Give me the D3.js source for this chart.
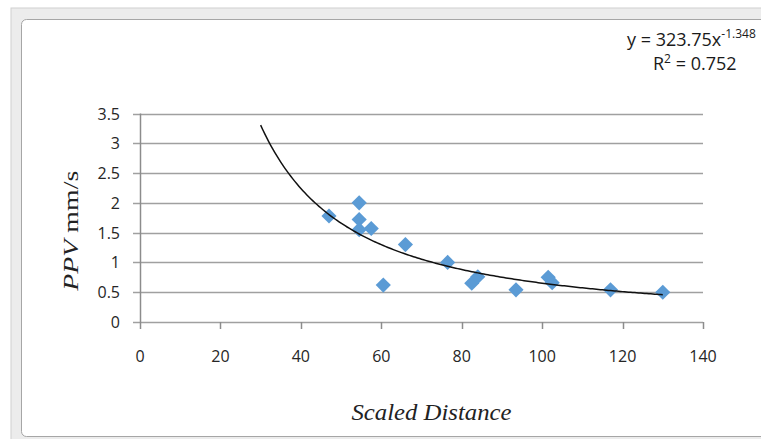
<!DOCTYPE html>
<html>
<head>
<meta charset="utf-8">
<script src="https://cdn.jsdelivr.net/npm/d3@7"></script>
<style>
  body { margin: 0; background: #fff; }
  svg { display: block; }
</style>
</head>
<body>
<svg id="chart" width="761" height="439"></svg>
<script>
const SCALED_DISTANCE = [47, 54.5, 54.5, 54.5, 57.5, 66, 60.5, 76.5, 82.5, 84, 93.5, 101.5, 102.5, 117, 130];
const PPV = [1.78, 2.0, 1.72, 1.55, 1.57, 1.3, 0.62, 1.0, 0.65, 0.76, 0.54, 0.75, 0.66, 0.54, 0.5];
const X_TICKS = [0, 20, 40, 60, 80, 100, 120, 140];
const Y_TICKS = [0, 0.5, 1, 1.5, 2, 2.5, 3, 3.5];
const FIT_A = 323.75;
const FIT_B = -1.348;
const FIT_R2 = 0.752;
const FIT_RANGE = [30, 130];

const svg = d3.select("#chart");

// excel-style frame round the chart
svg.append("rect")
  .attr("x", 11).attr("y", 8).attr("width", 760).attr("height", 440)
  .attr("fill", "#ececec").attr("stroke", "#cfcfcf");
svg.append("rect")
  .attr("x", 21.5).attr("y", 19.5).attr("width", 745).attr("height", 417)
  .attr("rx", 5)
  .attr("fill", "#fff").attr("stroke", "#a6a6a6");

const margin = { left: 140, right: 58, top: 113.5, bottom: 117 };
const width = 761, height = 439;

const x = d3.scaleLinear().domain([0, 140]).range([margin.left, width - margin.right]);
const y = d3.scaleLinear().domain([0, 3.5]).range([height - margin.bottom, margin.top]);

// gridlines
svg.append("g")
  .selectAll("line")
  .data(Y_TICKS)
  .join("line")
  .attr("x1", x(0) - 7).attr("x2", x(140))
  .attr("y1", (d) => Math.round(y(d)) + 0.5).attr("y2", (d) => Math.round(y(d)) + 0.5)
  .attr("stroke", "#a0a0a0").attr("stroke-width", 1.5);

// y axis line
svg.append("line")
  .attr("x1", x(0) + 0.5).attr("x2", x(0) + 0.5)
  .attr("y1", y(3.5)).attr("y2", y(0))
  .attr("stroke", "#8c8c8c").attr("stroke-width", 1.5);

// x ticks
svg.append("g")
  .selectAll("line")
  .data(X_TICKS)
  .join("line")
  .attr("x1", (d) => Math.round(x(d)) + 0.5).attr("x2", (d) => Math.round(x(d)) + 0.5)
  .attr("y1", y(0)).attr("y2", y(0) + 7)
  .attr("stroke", "#8c8c8c").attr("stroke-width", 1.5);

const tickFont = "'Open Sans', 'Liberation Sans', sans-serif";

svg.append("g")
  .selectAll("text")
  .data(Y_TICKS)
  .join("text")
  .attr("x", x(0) - 20)
  .attr("y", (d) => y(d) + 6)
  .attr("text-anchor", "end")
  .style("font-family", tickFont)
  .style("font-size", "16px")
  .style("fill", "#262626")
  .text((d) => d);

svg.append("g")
  .selectAll("text")
  .data(X_TICKS)
  .join("text")
  .attr("x", (d) => x(d))
  .attr("y", y(0) + 40)
  .attr("text-anchor", "middle")
  .style("font-family", tickFont)
  .style("font-size", "16px")
  .style("fill", "#262626")
  .text((d) => d);

// axis titles
const yTitle = svg.append("text")
  .attr("transform", `translate(78,${(y(0) + y(3.5)) / 2 + 13}) rotate(-90)`)
  .attr("text-anchor", "middle")
  .attr("textLength", 120)
  .attr("lengthAdjust", "spacingAndGlyphs")
  .style("font-family", "'Liberation Serif', serif")
  .style("font-size", "21px")
  .style("fill", "#222")
  .style("font-weight", "normal");
yTitle.append("tspan").style("font-style", "italic").text("PPV");
yTitle.append("tspan").text(" mm/s");

svg.append("text")
  .attr("x", (x(0) + x(140)) / 2 + 10)
  .attr("y", 420)
  .attr("text-anchor", "middle")
  .attr("textLength", 160)
  .attr("lengthAdjust", "spacingAndGlyphs")
  .style("font-family", "'Liberation Serif', serif")
  .style("font-style", "italic")
  .style("font-size", "23px")
  .style("fill", "#222")
  .text("Scaled Distance");

// data points
const points = SCALED_DISTANCE.map((d, i) => ({ sd: d, ppv: PPV[i] }));
svg.append("g")
  .selectAll("path")
  .data(points)
  .join("path")
  .attr("d", d3.symbol(d3.symbolSquare, 115))
  .attr("transform", (d) => `translate(${x(d.sd)},${y(d.ppv)}) rotate(45)`)
  .attr("fill", "#5b9bd5");

// power trendline
const fitX = d3.range(FIT_RANGE[0], FIT_RANGE[1] + 0.5, 0.5);
const fit = fitX.map((v) => ({ sd: v, ppv: FIT_A * Math.pow(v, FIT_B) }));
svg.append("path")
  .datum(fit)
  .attr("d", d3.line().x((d) => x(d.sd)).y((d) => y(d.ppv)))
  .attr("fill", "none")
  .attr("stroke", "#111")
  .attr("stroke-width", 1.5);

// equation label
const eq = svg.append("text")
  .attr("x", 627).attr("y", 46)
  .style("font-family", tickFont)
  .style("font-size", "18px")
  .style("fill", "#1a1a1a");
eq.append("tspan").text(`y = ${FIT_A}x`);
eq.append("tspan").attr("dy", -8).style("font-size", "12px").text(FIT_B);

const r2 = svg.append("text")
  .attr("x", 653).attr("y", 70)
  .style("font-family", tickFont)
  .style("font-size", "18px")
  .style("fill", "#1a1a1a");
r2.append("tspan").text("R");
r2.append("tspan").attr("dy", -7).style("font-size", "12px").text("2");
r2.append("tspan").attr("dy", 7).text(` = ${FIT_R2}`);
</script>
</body>
</html>
